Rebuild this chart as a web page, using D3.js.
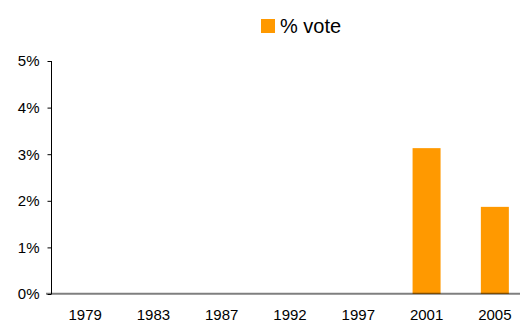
<!DOCTYPE html>
<html>
<head>
<meta charset="utf-8">
<script src="https://cdn.jsdelivr.net/npm/d3@7"></script>
<style>
  body { margin: 0; background: #fff; }
  svg { display: block; font-family: "Liberation Sans", Arial, sans-serif; }
</style>
</head>
<body>
<div id="chart"></div>
<script>
// chart data
let years = ['1979', '1983', '1987', '1992', '1997', '2001', '2005'];
let votes = [0, 0, 0, 0, 0, 3.13, 1.87];
let yTicks = [0, 1, 2, 3, 4, 5];
let seriesName = '% vote';

let width = 520, height = 323;
let plotLeft = 51, plotRight = 529, plotTop = 61, plotBottom = 294;

let svg = d3.select('#chart').append('svg')
    .attr('width', width)
    .attr('height', height);

let x = d3.scaleBand()
    .domain(years)
    .range([plotLeft, plotRight])
    .paddingInner(0.59)
    .paddingOuter(0.295);

let y = d3.scaleLinear()
    .domain([0, 5])
    .range([plotBottom, plotTop]);

// bars
svg.append('g')
    .selectAll('rect')
    .data(years.map((yr, i) => ({ year: yr, v: votes[i] })))
    .enter().append('rect')
    .attr('x', d => x(d.year))
    .attr('y', d => y(d.v))
    .attr('width', x.bandwidth())
    .attr('height', d => y(0) - y(d.v))
    .attr('fill', '#ff9900');

// y axis
let yAxis = svg.append('g')
    .attr('transform', `translate(${plotLeft + 0.5},0)`)
    .call(d3.axisLeft(y).tickValues(yTicks).tickSize(4).tickPadding(8)
        .tickFormat(d => d + '%'));
yAxis.select('.domain').attr('d', `M0,${plotTop}V${plotBottom}`).attr('stroke', '#000');
yAxis.selectAll('.tick line').attr('stroke', '#000');
yAxis.selectAll('.tick text')
    .attr('font-size', 15)
    .attr('font-family', '"Liberation Sans", Arial, sans-serif')
    .attr('fill', '#000');

// x axis (baseline drawn over the bars)
let xAxis = svg.append('g')
    .attr('transform', `translate(0,${plotBottom})`)
    .call(d3.axisBottom(x).tickSize(0).tickPadding(15));
xAxis.select('.domain').remove();
xAxis.selectAll('.tick text')
    .attr('font-size', 15)
    .attr('font-family', '"Liberation Sans", Arial, sans-serif')
    .attr('fill', '#000');

svg.append('line')
    .attr('x1', 46).attr('x2', width)
    .attr('y1', y(0) - 0.3).attr('y2', y(0) - 0.3)
    .attr('stroke', '#000')
    .attr('stroke-opacity', 0.5)
    .attr('stroke-width', 2);

// legend
let legend = svg.append('g').attr('transform', 'translate(261,19)');
legend.append('rect')
    .attr('width', 14).attr('height', 14)
    .attr('fill', '#ff9900');
legend.append('text')
    .attr('x', 19).attr('y', 14)
    .attr('font-size', 20)
    .attr('fill', '#000')
    .text(seriesName);
</script>
</body>
</html>
